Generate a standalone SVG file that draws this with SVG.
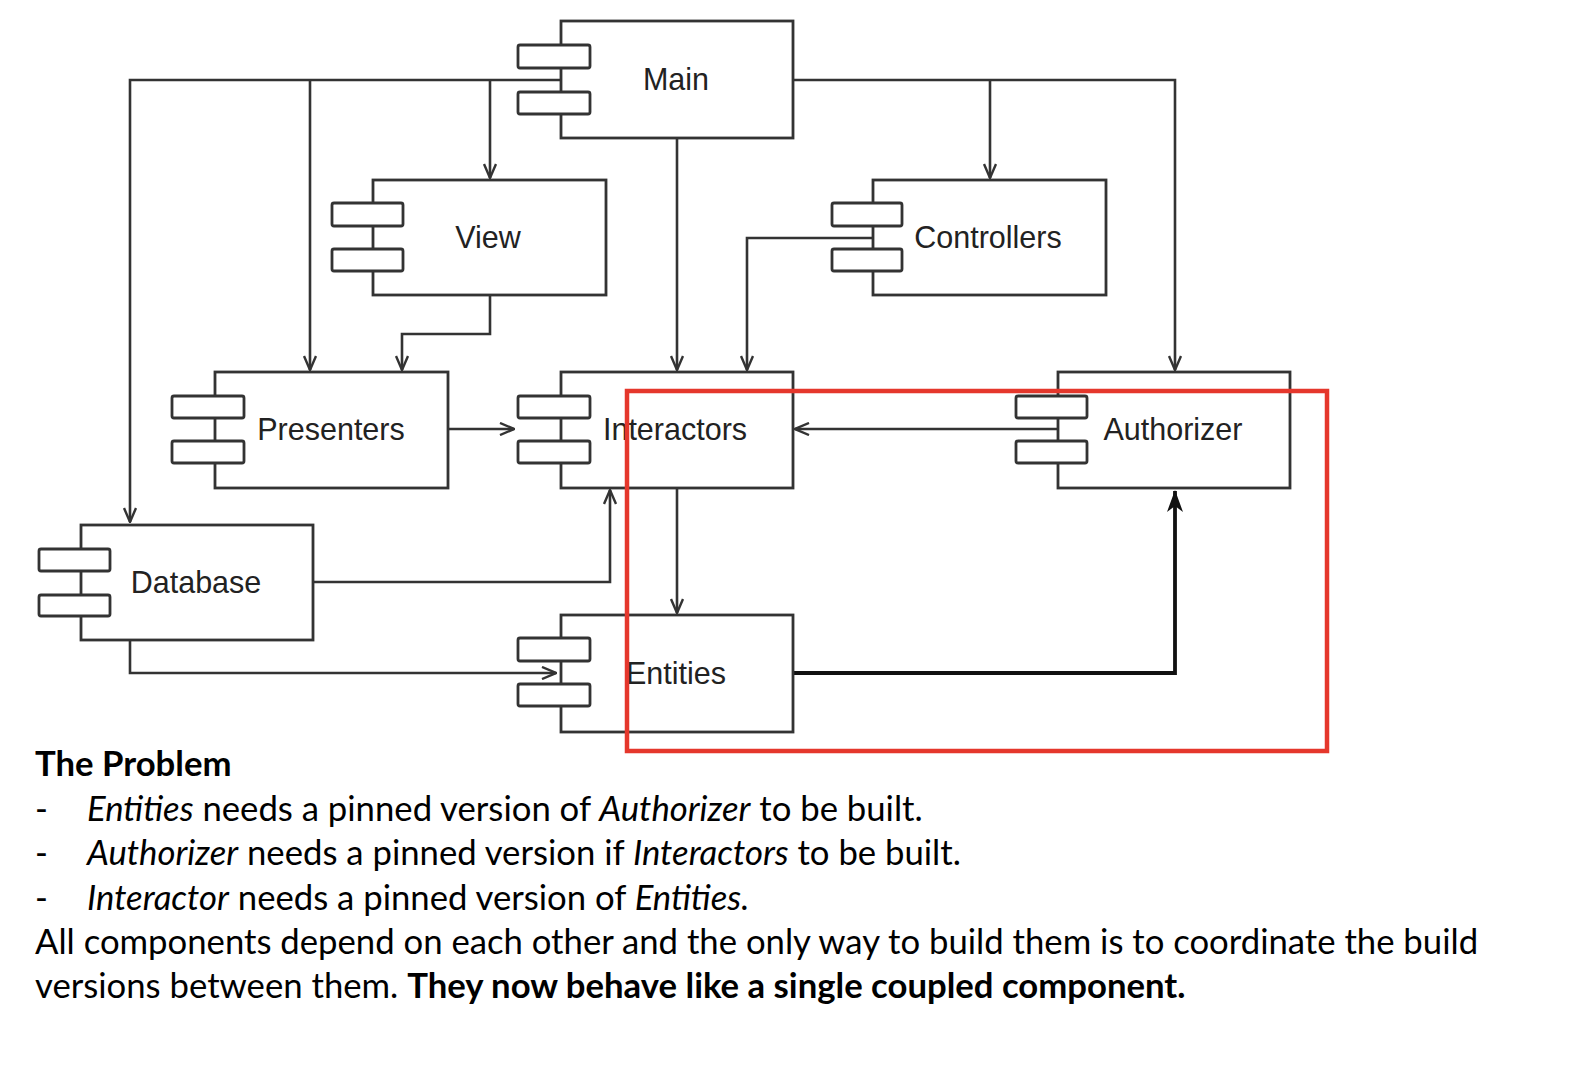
<svg xmlns="http://www.w3.org/2000/svg" width="1572" height="1088" viewBox="0 0 1572 1088">
<style>
.box{fill:#fff;stroke:#333;stroke-width:2.8}
.tab{fill:#fff;stroke:#333;stroke-width:2.8}
.lbl{font-family:"Liberation Sans",Arial,sans-serif;font-size:30.5px;fill:#222;text-anchor:middle}
.ln{fill:none;stroke:#333;stroke-width:2.6;marker-end:url(#arr)}
.lnT{fill:none;stroke:#111;stroke-width:3.8;marker-end:url(#arrT)}
.para{font-family:Lato,"Noto Sans",sans-serif;font-size:34.7px;fill:#000}
.it{font-style:italic}
.b{font-weight:bold}
</style>
<defs>
<marker id="arr" viewBox="0 0 16 14" refX="15" refY="7" markerWidth="16" markerHeight="14" orient="auto" markerUnits="userSpaceOnUse">
<path d="M1,1 L15,7 L1,13" fill="none" stroke="#333" stroke-width="2.4"/>
</marker>
<marker id="arrT" viewBox="0 0 22 18" refX="21" refY="9" markerWidth="22" markerHeight="18" orient="auto" markerUnits="userSpaceOnUse">
<path d="M0,1 L22,9 L0,17 L6,9 Z" fill="#111"/>
</marker>
</defs>
<rect width="1572" height="1088" fill="#fff"/>

<g id="connectors">
<path class="ln" d="M561,80 H130 V522"/>
<path class="ln" d="M310,80 V370"/>
<path class="ln" d="M490,80 V178"/>
<path class="ln" d="M677,138 V370"/>
<path class="ln" d="M793,80 H1175 V370"/>
<path class="ln" d="M990,80 V178"/>
<path class="ln" d="M490,295 V334 H402 V370"/>
<path class="ln" d="M873,238 H747 V370"/>
<path class="ln" d="M448,429 H514"/>
<path class="ln" d="M1058,429 H795"/>
<path class="ln" d="M677,488 V613"/>
<path class="ln" d="M313,582 H610 V490"/>
<path class="ln" d="M130,640 V673 H556"/>
<path class="lnT" d="M793,673 H1175 V491"/>
</g>

<g id="main">
<rect class="box" x="561" y="21" width="232" height="117"/>
<rect class="tab" x="518" y="45" width="72" height="23" rx="2"/>
<rect class="tab" x="518" y="92" width="72" height="22" rx="2"/>
<text class="lbl" x="676" y="90">Main</text>
</g>
<g id="view">
<rect class="box" x="373" y="180" width="233" height="115"/>
<rect class="tab" x="332" y="203" width="71" height="23" rx="2"/>
<rect class="tab" x="332" y="249" width="71" height="22" rx="2"/>
<text class="lbl" x="488" y="248">View</text>
</g>
<g id="controllers">
<rect class="box" x="873" y="180" width="233" height="115"/>
<rect class="tab" x="832" y="203" width="70" height="23" rx="2"/>
<rect class="tab" x="832" y="249" width="70" height="22" rx="2"/>
<text class="lbl" x="988" y="248">Controllers</text>
</g>
<g id="presenters">
<rect class="box" x="215" y="372" width="233" height="116"/>
<rect class="tab" x="172" y="396" width="72" height="22" rx="2"/>
<rect class="tab" x="172" y="441" width="72" height="22" rx="2"/>
<text class="lbl" x="331" y="440">Presenters</text>
</g>
<g id="interactors">
<rect class="box" x="561" y="372" width="232" height="116"/>
<rect class="tab" x="518" y="396" width="72" height="22" rx="2"/>
<rect class="tab" x="518" y="441" width="72" height="22" rx="2"/>
<text class="lbl" x="675" y="440">Interactors</text>
</g>
<g id="authorizer">
<rect class="box" x="1058" y="372" width="232" height="116"/>
<rect class="tab" x="1016" y="396" width="71" height="22" rx="2"/>
<rect class="tab" x="1016" y="441" width="71" height="22" rx="2"/>
<text class="lbl" x="1173" y="440">Authorizer</text>
</g>
<g id="database">
<rect class="box" x="81" y="525" width="232" height="115"/>
<rect class="tab" x="39" y="549" width="71" height="22" rx="2"/>
<rect class="tab" x="39" y="595" width="71" height="21" rx="2"/>
<text class="lbl" x="196" y="593">Database</text>
</g>
<g id="entities">
<rect class="box" x="561" y="615" width="232" height="117"/>
<rect class="tab" x="518" y="638" width="72" height="23" rx="2"/>
<rect class="tab" x="518" y="684" width="72" height="22" rx="2"/>
<text class="lbl" x="676" y="684">Entities</text>
</g>

<rect id="highlight" x="627" y="391" width="700" height="360" fill="none" stroke="#e5372c" stroke-width="4.5"/>

<g id="text">
<text class="para b" x="35" y="776">The Problem</text>
<text class="para" x="35" y="821">-</text>
<text class="para" x="87" y="821"><tspan class="it">Entities</tspan> needs a pinned version of <tspan class="it">Authorizer</tspan> to be built.</text>
<text class="para" x="35" y="865">-</text>
<text class="para" x="87" y="865"><tspan class="it">Authorizer</tspan> needs a pinned version if <tspan class="it">Interactors</tspan> to be built.</text>
<text class="para" x="35" y="910">-</text>
<text class="para" x="87" y="910"><tspan class="it">Interactor</tspan> needs a pinned version of <tspan class="it">Entities.</tspan></text>
<text class="para" x="35" y="954">All components depend on each other and the only way to build them is to coordinate the build</text>
<text class="para" x="35" y="998">versions between them. <tspan class="b">They now behave like a single coupled component.</tspan></text>
</g>
</svg>
